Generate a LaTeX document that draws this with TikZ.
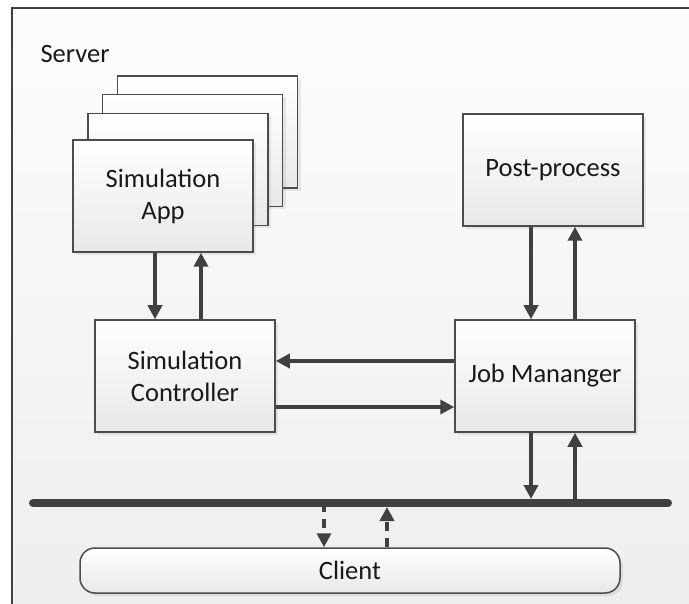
\documentclass[tikz,border=0pt]{standalone}
\usepackage{fontspec}
\setmainfont{Carlito}
\usepackage{tikz}
\usetikzlibrary{arrows.meta,positioning,shadows}

\begin{document}
\begin{tikzpicture}[x=1pt,y=-1pt]
	\tikzstyle{every node}=[font=\fontsize{26.5}{32}\selectfont,text=black!90];
	\tikzstyle{blk}=[draw=black!70,line width=1.5pt,rectangle,align=center,minimum width=180pt,minimum height=112pt,top color=white,bottom color=black!9,drop shadow={shadow xshift=3pt,shadow yshift=-3pt,opacity=0.15}];
	\tikzstyle{pth}=[draw=black!75,line width=4pt,-{Triangle[length=14pt,width=14pt]}];
	\tikzstyle{dpth}=[pth,line width=3.5pt,dash pattern=on 9pt off 7pt];
	\useasboundingbox (0,0) rectangle (689,604);
	\clip (0,0) rectangle (689,604);
	\fill[white] (0,0) rectangle (689,604);
	% server frame
	\draw[draw=black!75,line width=1.5pt,top color=black!1,bottom color=black!7] (12,8) rectangle (720,640);
	\node (server) [anchor=base west] at (37,63) {Server};
	% simulation app copies
	\foreach \i/\cx/\cy in {4/207.5/132,3/192.5/150.5,2/178/169.5}
		\node (app\i) [blk] at (\cx,\cy) {};
	\node (app) [blk] at (163,196) {Simulation\\App};
	\node (post) [blk] at (553,170) {Post-process};
	\node (sc) [blk] at (185,376) {Simulation\\Controller};
	\node (jm) [blk] at (545,376) {Job Mananger};
	\node (client) [blk,minimum width=540pt,minimum height=45pt,rounded corners=15pt] at (350,570.5) {Client};
	\coordinate (busl) at (33,503);
	\coordinate (busr) at (668,503);
	% connectors
	\draw[pth] ([xshift=-8pt]app.south) -- ([xshift=-8pt]app.south |- sc.north);
	\draw[pth] ([xshift=38pt]app.south |- sc.north) -- ([xshift=38pt]app.south);
	\draw[pth] ([yshift=15pt]jm.west) -- ([yshift=15pt]jm.west -| sc.east);
	\draw[pth] ([yshift=-31pt]sc.east) -- ([yshift=-31pt]sc.east -| jm.west);
	\draw[pth] ([xshift=-14pt]jm.north |- post.south) -- ([xshift=-14pt]jm.north);
	\draw[pth] ([xshift=30pt]jm.north) -- ([xshift=30pt]jm.north |- post.south);
	\draw[pth,shorten >=4pt] ([xshift=-14pt]jm.south) -- ([xshift=-14pt]jm.south |- busl);
	\draw[pth] ([xshift=30pt]jm.south |- busl) -- ([xshift=30pt]jm.south);
	\draw[dpth] ([xshift=-26pt]client.north |- busl) -- ([xshift=-26pt]client.north);
	\draw[dpth,shorten >=4pt] ([xshift=37pt]client.north) -- ([xshift=37pt]client.north |- busl);
	% bus
	\draw[black!75,line width=8pt,line cap=round] (busl) -- (busr);
\end{tikzpicture}
\end{document}
